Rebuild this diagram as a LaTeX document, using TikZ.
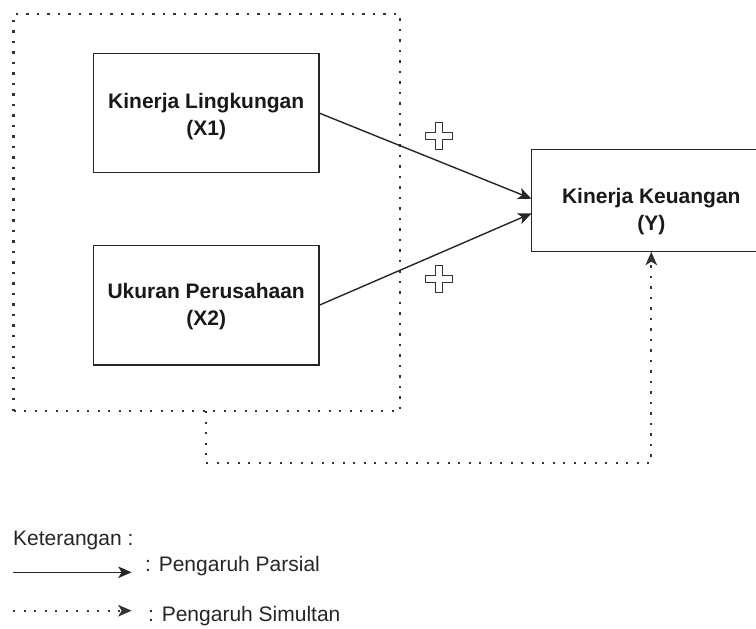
\documentclass[tikz,border=0pt]{standalone}
\usepackage{fontspec}
\setmainfont{Liberation Sans}
\usetikzlibrary{arrows.meta,calc}
\begin{document}
\begin{tikzpicture}[x=1pt,y=-1pt,
  box/.style={draw=black!85, line width=1.4pt, inner sep=0pt, outer sep=0pt},
  boxtext/.style={inner sep=0pt, align=center, font=\fontsize{21}{27}\selectfont\bfseries, text=black!90},
  legtext/.style={inner sep=0pt, anchor=base west, font=\fontsize{21}{25}\selectfont, text=black!85},
  dotline/.style={draw=black!80, line width=2.2pt, dash pattern=on 2.2pt off 8.3pt},
  tipstyle/.style={-{Stealth[length=13.5pt,width=11.5pt,inset=3.5pt]}},
  solidarrow/.style={tipstyle, draw=black!85, line width=1.4pt},
  dotarrow/.style={tipstyle, dotline},
  pics/plusmark/.style={code={
    \draw[draw=black!80, line width=1.3pt, fill=white]
      (-3.5,-13.5) -- (3.5,-13.5) -- (3.5,-3.5) -- (13.5,-3.5) -- (13.5,3.5) -- (3.5,3.5)
      -- (3.5,13.5) -- (-3.5,13.5) -- (-3.5,3.5) -- (-13.5,3.5) -- (-13.5,-3.5) -- (-3.5,-3.5) -- cycle;
  }}]
\useasboundingbox (0,0) rectangle (756,629);
\clip (0,0) rectangle (756,629);

% dotted frame
\node[dotline, minimum width=386.5pt, minimum height=397pt, inner sep=0pt, outer sep=0pt] (frame) at (206.75,212.5) {};

% boxes
\node[box, minimum width=225.7pt, minimum height=119.4pt] (x1) at (206.2,113) {};
\node[box, minimum width=225.7pt, minimum height=119.3pt] (x2) at (206.2,305.3) {};
\node[box, minimum width=239.3pt, minimum height=102.4pt] (y) at (651.3,200.5) {};

\node[boxtext] (x1t) at (206.2,116.4) {Kinerja Lingkungan\\(X1)};
\node[boxtext] (x2t) at (206.2,306.4) {Ukuran Perusahaan\\(X2)};
\node[boxtext] (yt) at (651.3,211.2) {Kinerja Keuangan\\(Y)};

% partial arrows
\draw[solidarrow] (x1.east) -- ($(y.west)+(0,-1.8)$);
\draw[solidarrow] (x2.east) -- ($(y.west)+(0,12.8)$);

% plus marks
\pic at (438.7,136.3) {plusmark};
\pic at (438.7,279) {plusmark};

% simultaneous arrow
\coordinate (s) at (205.7,411);
\draw[dotarrow] (s) -- (205.7,463) -| (y.south);

% legend
\node[legtext] (ket) at (13,545) {Keterangan :};
\coordinate (la1) at (13,572.3);
\coordinate (la2) at (131.7,572.3);
\draw[solidarrow] (la1) -- (la2);
\node[legtext] (lpar) at (145,571.7) {: Pengaruh Parsial};
\coordinate (lb1) at (13,610.7);
\coordinate (lb2) at (131.7,610.7);
\draw[dotarrow] (lb1) -- (lb2);
\node[legtext] (lsim) at (148,621.7) {: Pengaruh Simultan};
\end{tikzpicture}
\end{document}
